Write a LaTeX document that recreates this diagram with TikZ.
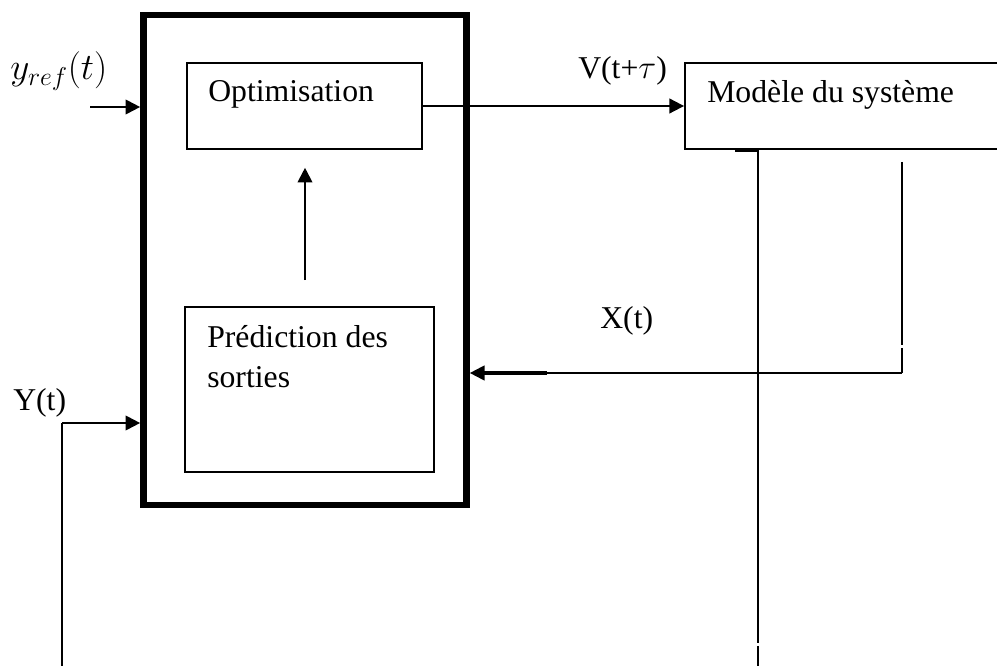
\documentclass[tikz,border=0pt]{standalone}
\usepackage{fontspec}
\usepackage{graphicx}
\setmainfont{Liberation Serif}
\usetikzlibrary{arrows.meta,calc}
\begin{document}
\begin{tikzpicture}[x=0.75pt,y=-0.75pt,
  txt/.style={font=\fontsize{23.8}{30}\selectfont, inner sep=0pt, anchor=base west},
  thinbox/.style={draw, line width=1.2pt, inner sep=0pt},
  conn/.style={line width=1.5pt},
  arr/.style={conn, -{Triangle[length=11pt,width=11pt]}}
]
\clip (0,0) rectangle (997,666);
% boxes
\node[thinbox, line width=5pt, minimum width=242.25pt, minimum height=367.5pt] (big) at (305,260) {};
\node[thinbox, minimum width=176.25pt, minimum height=64.5pt] (optim) at (304.5,106) {};
\node[thinbox, minimum width=186.75pt, minimum height=123.75pt] (pred) at (309.5,389.5) {};
\node[thinbox, line width=1.4pt, minimum width=243.75pt, minimum height=64.5pt] (modele) at (847.5,106) {};
% texts
\node[txt] (optimtxt) at (208,102) {Optimisation};
\node[txt] (modeletxt) at (707,103) {Modèle du système};
\node[txt] (predtxta) at (207,348) {Prédiction des};
\node[txt] (predtxtb) at (207,388) {sorties};
\node[txt] (yref) at (10,80) {\scalebox{1.12}{$y_{ref}(t)$}};
\node[txt] (vlab) at (578,79) {V(t+$\tau$)};
\node[txt] (xlab) at (600,329) {X(t)};
\node[txt] (ylab) at (13,411) {Y(t)};
% coordinates
\coordinate (yrefin) at (90,107);
\coordinate (ux) at (305,0);
\coordinate (ybot) at (62,666);
\coordinate (ycorner) at (62,423);
\coordinate (xtop) at (902,162);
\coordinate (xgapa) at (902,345);
\coordinate (xgapb) at (902,348);
\coordinate (xcorner) at (902,373);
\coordinate (thickend) at (547,373);
\coordinate (mstub) at (735,150.5);
\coordinate (mout) at (758,150);
\coordinate (mgapa) at (758,643);
\coordinate (mgapb) at (758,646);
\coordinate (mbot) at (758,666);
% connectors
\draw[arr] (yrefin) -- (yrefin -| big.west);
\draw[arr] (optim.east) -- (optim.east -| modele.west);
\draw[arr, shorten <=19.5pt, shorten >=13.5pt] (pred.north -| ux) -- (optim.south -| ux);
\draw[conn] (ybot) -- (ycorner);
\draw[arr] (ycorner) -- (ycorner -| big.west);
\draw[conn] (xtop) -- (xgapa);
\draw[conn] (xgapb) -- (xcorner);
\draw[arr] (xcorner) -- (xcorner -| big.east);
\draw[line width=3pt] (thickend) -- ($(xcorner -| big.east)+(12,0)$);
\draw[line width=2pt] (mstub) -- (mout |- mstub);
\draw[conn] (mout) -- (mgapa);
\draw[conn] (mgapb) -- (mbot);
\end{tikzpicture}
\end{document}
